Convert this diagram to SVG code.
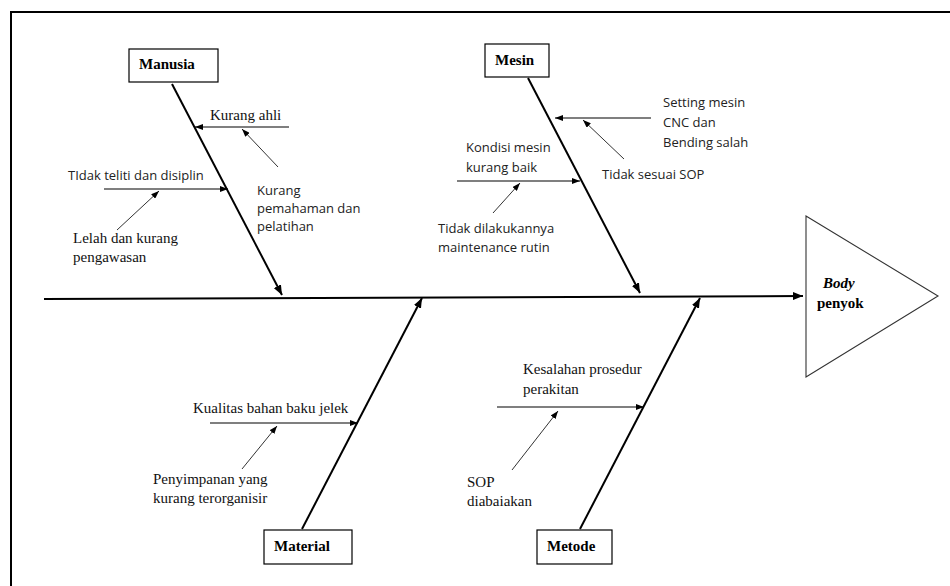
<svg xmlns="http://www.w3.org/2000/svg" width="950" height="586" viewBox="0 0 950 586">
<defs>
<style>
.serif{font-family:"Liberation Serif","Times New Roman",serif;font-size:15px;fill:#111}
.sans{font-family:"Open Sans","Liberation Sans",sans-serif;font-size:13px;fill:#222}
.lbl{font-family:"Liberation Serif","Times New Roman",serif;font-size:15px;font-weight:bold;fill:#000}
.box{fill:#fff;stroke:#000;stroke-width:1.2}
.spine{stroke:#000;stroke-width:2;fill:none}
.sub{stroke:#000;stroke-width:1.1;fill:none}
.cause{stroke:#333;stroke-width:1;fill:none}
</style>
<marker id="ab" viewBox="0 0 10 8" refX="10" refY="4" markerWidth="10" markerHeight="8" markerUnits="userSpaceOnUse" orient="auto"><path d="M0,0 L10,4 L0,8 z" fill="#000"/></marker>
<marker id="as" viewBox="0 0 8 6" refX="8" refY="3" markerWidth="8" markerHeight="6" markerUnits="userSpaceOnUse" orient="auto"><path d="M0,0 L8,3 L0,6 z" fill="#000"/></marker>
</defs>
<rect width="950" height="586" fill="#fff"/>
<path d="M11,586 V12 H950" fill="none" stroke="#000" stroke-width="2"/>

<g id="connectors">
<line class="spine" x1="44" y1="299" x2="803" y2="296" marker-end="url(#ab)"/>
<line class="spine" x1="172" y1="84" x2="282" y2="295" marker-end="url(#ab)"/>
<line class="spine" x1="528" y1="78" x2="640" y2="293" marker-end="url(#ab)"/>
<line class="spine" x1="302" y1="529" x2="422" y2="298" marker-end="url(#ab)"/>
<line class="spine" x1="580" y1="529" x2="700" y2="298" marker-end="url(#ab)"/>
<line class="sub" x1="289" y1="127" x2="195" y2="127" marker-end="url(#as)"/>
<line class="cause" x1="278" y1="167" x2="242" y2="129" marker-end="url(#as)"/>
<line class="sub" x1="104" y1="189" x2="228" y2="189" marker-end="url(#as)"/>
<line class="cause" x1="117" y1="230" x2="159" y2="191" marker-end="url(#as)"/>
<line class="sub" x1="651" y1="118" x2="555" y2="118" marker-end="url(#as)"/>
<line class="cause" x1="624" y1="159" x2="583" y2="120" marker-end="url(#as)"/>
<line class="sub" x1="457" y1="181" x2="580" y2="181" marker-end="url(#as)"/>
<line class="cause" x1="493" y1="213" x2="520" y2="183" marker-end="url(#as)"/>
<line class="sub" x1="210" y1="423" x2="358" y2="423" marker-end="url(#as)"/>
<line class="cause" x1="242" y1="469" x2="277" y2="426" marker-end="url(#as)"/>
<line class="sub" x1="497" y1="407" x2="644" y2="407" marker-end="url(#as)"/>
<line class="cause" x1="512" y1="470" x2="558" y2="411" marker-end="url(#as)"/>
</g>

<g id="manusia">
<rect class="box" x="129" y="49" width="89" height="33"/>
<text class="lbl" x="139" y="69">Manusia</text>
</g>
<g id="mesin">
<rect class="box" x="485" y="44" width="64" height="33"/>
<text class="lbl" x="495" y="65">Mesin</text>
</g>
<g id="material">
<rect class="box" x="264" y="530" width="88" height="34"/>
<text class="lbl" x="274" y="551">Material</text>
</g>
<g id="metode">
<rect class="box" x="537" y="530" width="75" height="34"/>
<text class="lbl" x="547" y="551">Metode</text>
</g>
<g id="effect">
<polygon points="806,216 938,296 806,377" fill="#fff" stroke="#333" stroke-width="1.1"/>
<text class="lbl" x="823" y="288" font-style="italic">Body</text>
<text class="lbl" x="817" y="308">penyok</text>
</g>

<g id="cause-kurang-ahli"><text class="serif" x="210" y="120">Kurang ahli</text></g>
<g id="cause-kurang-pemahaman"><text class="sans"><tspan x="257" y="195">Kurang</tspan><tspan x="257" y="213">pemahaman dan</tspan><tspan x="257" y="231">pelatihan</tspan></text></g>
<g id="cause-tidak-teliti"><text class="sans" x="68" y="180">TIdak teliti dan disiplin</text></g>
<g id="cause-lelah"><text class="serif"><tspan x="73" y="243">Lelah dan kurang</tspan><tspan x="73" y="262">pengawasan</tspan></text></g>
<g id="cause-setting"><text class="sans"><tspan x="663" y="107">Setting mesin</tspan><tspan x="663" y="127">CNC dan</tspan><tspan x="663" y="147">Bending salah</tspan></text></g>
<g id="cause-tidak-sesuai"><text class="sans" x="602" y="179">Tidak sesuai SOP</text></g>
<g id="cause-kondisi"><text class="sans"><tspan x="466" y="152">Kondisi mesin</tspan><tspan x="466" y="172">kurang baik</tspan></text></g>
<g id="cause-maintenance"><text class="sans"><tspan x="438" y="233">Tidak dilakukannya</tspan><tspan x="438" y="252">maintenance rutin</tspan></text></g>
<g id="cause-kualitas"><text class="serif" x="193" y="413">Kualitas bahan baku jelek</text></g>
<g id="cause-penyimpanan"><text class="serif"><tspan x="153" y="484">Penyimpanan yang</tspan><tspan x="153" y="503">kurang terorganisir</tspan></text></g>
<g id="cause-kesalahan"><text class="serif"><tspan x="523" y="374">Kesalahan prosedur</tspan><tspan x="523" y="394">perakitan</tspan></text></g>
<g id="cause-sop"><text class="serif"><tspan x="467" y="487">SOP</tspan><tspan x="467" y="506">diabaiakan</tspan></text></g>
</svg>
